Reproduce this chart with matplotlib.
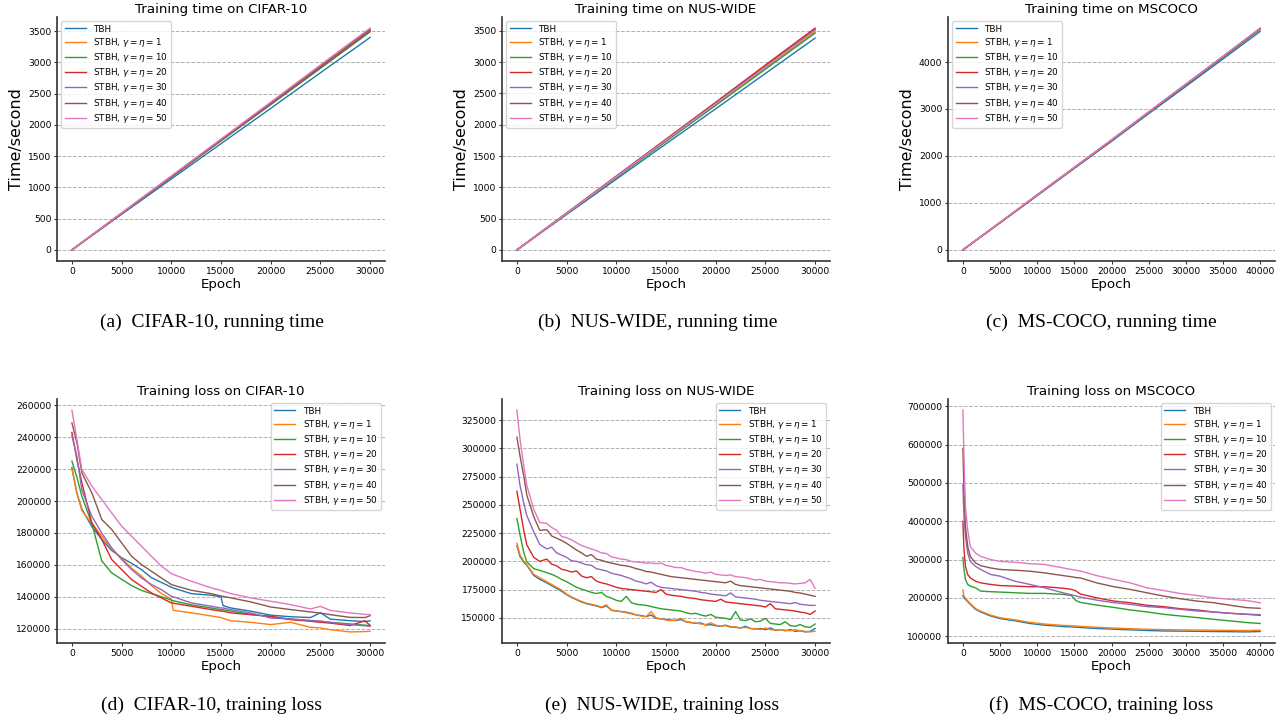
import matplotlib
matplotlib.use("Agg")
import matplotlib.pyplot as plt
from matplotlib.ticker import MultipleLocator

# ---------------------------------------------------------------- labels
SERIES_LABELS = [
    "TBH",
    r"STBH, $\gamma=\eta=1$",
    r"STBH, $\gamma=\eta=10$",
    r"STBH, $\gamma=\eta=20$",
    r"STBH, $\gamma=\eta=30$",
    r"STBH, $\gamma=\eta=40$",
    r"STBH, $\gamma=\eta=50$",
]
COLORS = ["#1f77b4", "#ff7f0e", "#2ca02c", "#d62728",
          "#9467bd", "#8c564b", "#e377c2"]

# ------------------------------------------------------- training time
time_epochs_30k = [0, 5000, 10000, 15000, 20000, 25000, 30000]
time_epochs_40k = [0, 5000, 10000, 15000, 20000, 25000, 30000, 35000, 40000]

time_cifar = [
    [0, 570, 1135, 1700, 2265, 2835, 3400],
    [0, 585, 1165, 1750, 2330, 2915, 3500],
    [0, 582, 1163, 1745, 2325, 2905, 3490],
    [0, 586, 1170, 1755, 2340, 2925, 3510],
    [0, 587, 1173, 1760, 2345, 2935, 3520],
    [0, 588, 1175, 1763, 2350, 2940, 3530],
    [0, 592, 1183, 1775, 2365, 2960, 3550],
]
time_nus = [
    [0, 565, 1130, 1695, 2255, 2820, 3385],
    [0, 580, 1160, 1740, 2320, 2900, 3480],
    [0, 578, 1155, 1733, 2310, 2888, 3465],
    [0, 590, 1180, 1770, 2360, 2955, 3545],
    [0, 585, 1172, 1757, 2343, 2928, 3510],
    [0, 587, 1174, 1760, 2347, 2935, 3520],
    [0, 584, 1168, 1752, 2336, 2920, 3505],
]
time_coco = [
    [0, 575, 1155, 1735, 2310, 2900, 3480, 4065, 4650],
    [0, 580, 1165, 1750, 2330, 2925, 3515, 4105, 4700],
    [0, 580, 1163, 1748, 2330, 2922, 3512, 4100, 4695],
    [0, 582, 1168, 1753, 2337, 2930, 3522, 4112, 4710],
    [0, 583, 1168, 1754, 2338, 2932, 3524, 4115, 4712],
    [0, 583, 1170, 1755, 2340, 2935, 3527, 4118, 4715],
    [0, 585, 1172, 1758, 2343, 2938, 3530, 4122, 4722],
]

# -------------------------------------------------------- training loss
loss_epochs_cifar = [0, 500, 1000, 2000, 3000, 4000, 5000, 6000, 7000, 8000,
                     9000, 10000, 10200, 12000, 14000, 15000, 15200, 16000,
                     18000, 20000, 22000, 24000, 25000, 26000, 28000, 29500,
                     30000]
loss_cifar = [
    [221000, 205000, 195000, 184000, 176000, 169000, 164500, 161000, 157000,
     152000, 149000, 146000, 145500, 142000, 141000, 140000, 134500, 133000,
     131000, 128500, 127500, 127000, 130000, 126000, 125000, 124500, 125000],
    [220000, 205000, 194000, 186000, 178000, 170000, 164000, 158000, 153000,
     147000, 142000, 138500, 131500, 130000, 128000, 127000, 126500, 125000,
     124000, 122600, 124000, 120900, 120500, 119400, 118000, 118200, 118400],
    [225000, 215000, 203000, 186000, 162500, 155000, 151000, 147000, 144000,
     142000, 140000, 138000, 137500, 135000, 133000, 132000, 132000, 131000,
     129000, 127500, 126000, 125000, 124500, 124000, 123000, 122200, 122000],
    [243000, 226000, 211500, 186400, 176000, 163400, 157100, 150800, 146600,
     142400, 139300, 136200, 136000, 134100, 132000, 131000, 131000, 129900,
     128800, 127800, 125700, 124700, 124000, 123500, 122000, 125000, 122000],
    [241000, 228000, 207000, 190500, 180000, 170700, 163400, 157100, 151800,
     147700, 144500, 140300, 140000, 136200, 134100, 133000, 133000, 132000,
     129900, 126700, 126100, 125200, 124800, 124000, 122600, 121800, 121500],
    [249000, 236600, 217700, 205200, 188500, 182200, 173800, 165400, 160200,
     156000, 151800, 147700, 147300, 144100, 142000, 140500, 140300, 139300,
     136800, 133600, 132000, 130500, 129800, 128800, 127100, 127000, 128200],
    [257000, 238700, 219800, 209400, 201000, 192600, 184300, 178000, 171700,
     165400, 159200, 154600, 154000, 149800, 145600, 144000, 143500, 142000,
     139300, 137200, 135100, 132400, 134000, 131500, 129900, 129000, 128800],
]

loss_epochs_nus = [0, 300, 700, 1000, 1700, 2300] + list(range(3000, 30001, 500))
loss_nus = [
    [214000, 204500, 199000, 196500, 187500, 184000,
     181000, 178500, 176000, 173500, 170500, 168000, 166000, 164000, 162500, 161500,
     160500, 159000, 160500, 157000, 156000, 155500, 155000, 154000, 152500, 152000,
     151000, 152500, 149500, 149000, 148500, 148000, 147500, 148500, 146500, 146000,
     145000, 145500, 143500, 144000, 143000, 142500, 143500, 142000, 141500, 141000,
     142500, 140500, 140000, 140500, 139500, 141000, 139000, 139500, 138500, 139500,
     138000, 138500, 137500, 138000, 140500],
    [216000, 206000, 200000, 197000, 188500, 185500,
     182000, 179500, 177000, 174500, 171000, 168500, 166500, 164500, 163000, 162000,
     161000, 159500, 161500, 156500, 156000, 155500, 154500, 153500, 152500, 151500,
     151000, 155500, 150000, 149000, 148000, 147500, 148000, 149500, 146500, 145500,
     145500, 144500, 144000, 145500, 143500, 142500, 143000, 141500, 142000, 141000,
     141500, 140500, 140500, 139500, 141000, 139500, 139000, 139500, 139000, 138500,
     139500, 138500, 138000, 137500, 138000],
    [238000, 224000, 207500, 199500, 193500, 192000,
     190000, 188500, 186500, 184000, 182000, 179500, 177000, 175500, 174000, 172500,
     171500, 172500, 169000, 167500, 165500, 164500, 169000, 163500, 162000, 161500,
     161000, 160000, 159000, 158000, 157500, 157000, 156500, 156000, 154500, 153500,
     154000, 152500, 151500, 153000, 150500, 150000, 149500, 148500, 155500, 148000,
     147500, 149000, 146500, 147000, 149500, 145000, 144500, 144000, 146500, 143000,
     142500, 144000, 142000, 141500, 144500],
    [262000, 247000, 227000, 214500, 203500, 200000,
     202000, 197500, 196000, 193000, 192000, 190500, 191500, 187000, 185500, 186500,
     182500, 181000, 180000, 178500, 177000, 176000, 175500, 175000, 174500, 174000,
     173500, 173000, 172500, 175000, 171000, 170000, 169500, 169000, 168000, 167500,
     167000, 166000, 165500, 165000, 164500, 166500, 164000, 163500, 163000, 162500,
     162000, 161500, 161000, 160500, 159500, 162500, 158000, 157500, 157000, 156500,
     156000, 155000, 154500, 153000, 156000],
    [286000, 268000, 251000, 240500, 226000, 215000,
     211000, 212500, 207500, 205500, 203500, 200500, 200000, 198500, 197000, 196500,
     193500, 192500, 191500, 189500, 188500, 187500, 186000, 184500, 182500, 181500,
     180000, 181500, 178500, 177000, 176500, 176000, 175500, 175000, 174500, 174000,
     173500, 172500, 172000, 171000, 170500, 170000, 169500, 172000, 168500, 168000,
     167500, 167000, 166500, 165500, 165000, 164500, 164000, 163500, 163000, 162500,
     163500, 162000, 161500, 161000, 161000],
    [310000, 294000, 275000, 258500, 239500, 227500,
     228000, 222500, 220500, 218500, 216000, 213000, 210000, 207500, 204500, 206000,
     202000, 201000, 199500, 198500, 197500, 196500, 196000, 195000, 193500, 192500,
     191000, 190500, 189500, 188500, 187500, 186500, 186000, 185500, 185000, 184500,
     184000, 183500, 183000, 182500, 182000, 181500, 181000, 182500, 179500, 178500,
     178000, 177500, 177000, 176500, 176000, 175500, 175000, 174500, 174000, 173500,
     172500, 172000, 171000, 170000, 169000],
    [334000, 309000, 284000, 267000, 246000, 234500,
     233500, 230000, 227500, 222000, 221000, 219000, 216500, 214000, 212500, 211000,
     209500, 207500, 207000, 204000, 203000, 202000, 201500, 200000, 199500, 199000,
     198500, 198500, 198000, 198500, 196500, 195500, 194500, 194500, 193000, 192000,
     191000, 190500, 189500, 190500, 188500, 188000, 187500, 188000, 186500, 186000,
     185500, 184500, 183500, 184000, 182500, 182000, 181500, 181000, 181000, 180500,
     180000, 180500, 181000, 184000, 176000],
]

loss_epochs_coco = [0, 150, 350, 650, 1000, 1700, 2400, 3700, 5000, 7000, 9000,
                    11000, 13500, 14600, 15200, 15800, 18000, 20300, 22500,
                    24800, 27000, 29200, 31500, 33700, 36000, 38200, 40000]
loss_coco = [
    [205000, 200000, 196000, 190000, 183000, 170000, 163000, 152700, 145800,
     140000, 133000, 128500, 125000, 124000, 123500, 122500, 120000, 118100,
     116400, 114700, 113500, 113000, 112500, 112000, 111500, 111000, 112000],
    [220000, 204000, 199000, 192000, 185000, 172000, 165000, 155000, 148000,
     142500, 136000, 131500, 128000, 127000, 126500, 125500, 123000, 121000,
     119500, 118000, 117000, 116500, 116000, 115500, 115000, 114500, 115500],
    [305000, 274000, 248000, 235000, 230500, 226000, 217500, 216000, 215000,
     213200, 211500, 211500, 209000, 206000, 193000, 188000, 181000, 175000,
     168300, 163000, 157000, 152700, 148400, 144000, 139700, 135400, 133000],
    [400000, 325600, 282000, 260800, 252000, 243500, 239000, 235000, 232000,
     230500, 229000, 229000, 225000, 222000, 218000, 210000, 200000, 191600,
     187300, 180500, 177000, 171700, 168300, 163000, 159600, 157000, 154400],
    [495000, 412000, 360000, 317000, 295000, 282000, 274000, 261000, 256500,
     243500, 235000, 226000, 213000, 208000, 205000, 202000, 194000, 187300,
     183000, 177000, 174300, 170000, 165700, 163000, 159600, 157000, 156000],
    [590000, 481000, 386000, 334000, 308000, 291000, 284000, 278000, 274000,
     272000, 269500, 265000, 258000, 255000, 253000, 252000, 239000, 229000,
     222000, 213000, 204500, 197700, 191500, 187300, 180500, 174300, 172600],
    [690000, 568000, 438000, 377000, 334000, 317000, 308000, 300000, 295000,
     293000, 289000, 287000, 278000, 274000, 272000, 270000, 258000, 248000,
     239000, 226000, 219000, 211500, 206000, 200000, 196000, 193000, 187000],
]

# ------------------------------------------------------------- drawing
W, H = 1283, 719
fig = plt.figure(figsize=(W / 100, H / 100), dpi=100)

TICK_FS = 6.6
LABEL_FS = 9.6


def panel(l, t, r, b):
    return fig.add_axes([l / W, 1 - b / H, (r - l) / W, (b - t) / H])


def draw(ax, epochs, series, title, xstep, ystep, legend_loc, ylabel=None):
    for vals, col, lab in zip(series, COLORS, SERIES_LABELS):
        ax.plot(epochs, vals, color=col, lw=1.0, label=lab)
    ax.set_title(title, fontsize=LABEL_FS, pad=3)
    ax.set_xlabel("Epoch", fontsize=LABEL_FS, labelpad=1.5)
    if ylabel:
        ax.set_ylabel(ylabel, fontsize=11.5, labelpad=3)
    ax.xaxis.set_major_locator(MultipleLocator(xstep))
    ax.yaxis.set_major_locator(MultipleLocator(ystep))
    ax.ticklabel_format(useOffset=False, style="plain")
    ax.tick_params(labelsize=TICK_FS, length=2.5, width=0.8, pad=1.5,
                   color="#333333")
    ax.yaxis.grid(True, linestyle="--", color="#b0b0b0", linewidth=0.7)
    ax.set_axisbelow(True)
    for side in ("top", "right"):
        ax.spines[side].set_visible(False)
    for side in ("left", "bottom"):
        ax.spines[side].set_linewidth(1.2)
        ax.spines[side].set_color("#333333")
    ax.legend(loc=legend_loc, fontsize=6.4, handlelength=2.4,
              borderaxespad=0.5, labelspacing=0.25, borderpad=0.35)


ax_a = panel(57, 17, 385, 261)
draw(ax_a, time_epochs_30k, time_cifar, "Training time on CIFAR-10",
     5000, 500, "upper left", "Time/second")
ax_b = panel(502, 17, 830, 261)
draw(ax_b, time_epochs_30k, time_nus, "Training time on NUS-WIDE",
     5000, 500, "upper left", "Time/second")
ax_c = panel(948, 17, 1275, 261)
draw(ax_c, time_epochs_40k, time_coco, "Training time on MSCOCO",
     5000, 1000, "upper left", "Time/second")

ax_d = panel(57, 399, 385, 643)
draw(ax_d, loss_epochs_cifar, loss_cifar, "Training loss on CIFAR-10",
     5000, 20000, "upper right")
ax_e = panel(502, 399, 830, 643)
draw(ax_e, loss_epochs_nus, loss_nus, "Training loss on NUS-WIDE",
     5000, 25000, "upper right")
ax_f = panel(948, 399, 1275, 643)
draw(ax_f, loss_epochs_coco, loss_coco, "Training loss on MSCOCO",
     5000, 100000, "upper right")

captions = [
    (212, 322, "(a)  CIFAR-10, running time"),
    (658, 322, "(b)  NUS-WIDE, running time"),
    (1101, 322, "(c)  MS-COCO, running time"),
    (212, 705, "(d)  CIFAR-10, training loss"),
    (662, 705, "(e)  NUS-WIDE, training loss"),
    (1101, 705, "(f)  MS-COCO, training loss"),
]
for x, y, txt in captions:
    fig.text(x / W, 1 - y / H, txt, family="Liberation Serif", fontsize=14,
             ha="center", va="center")

fig.savefig("out.png", dpi=100)
